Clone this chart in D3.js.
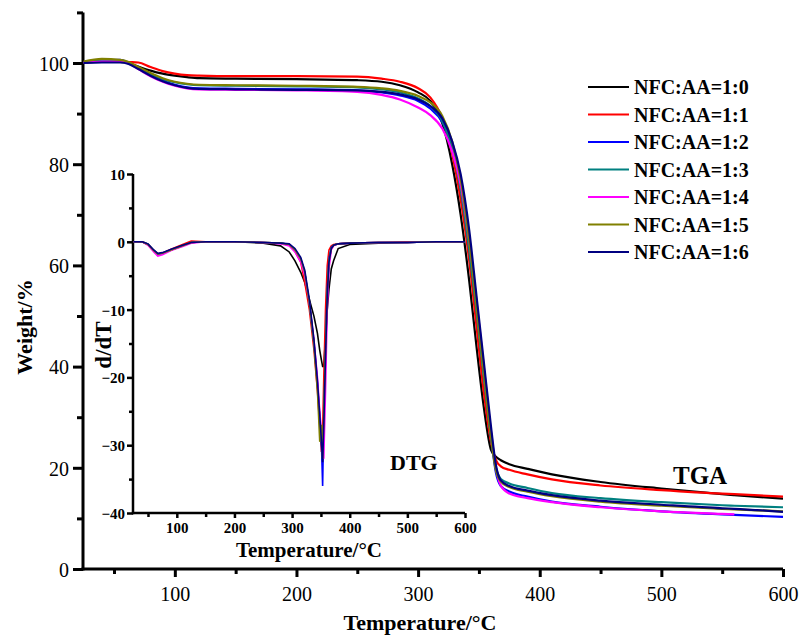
<!DOCTYPE html>
<html>
<head>
<meta charset="utf-8">
<script src="https://cdn.jsdelivr.net/npm/d3@7"></script>
<style>
    body { margin: 0; background: #fff; }
    #chart-area { width: 803px; height: 637px; }
    svg text { font-family: "Liberation Serif", "Times New Roman", serif !important; fill: #000; }
    .axis path, .axis line { stroke: #000; }
    .bold { font-weight: bold; }
</style>
</head>
<body>
<div id="chart-area"></div>
<script>

// series names and colours (legend order)
let seriesNames = ["NFC:AA=1:0", "NFC:AA=1:1", "NFC:AA=1:2", "NFC:AA=1:3", "NFC:AA=1:4", "NFC:AA=1:5", "NFC:AA=1:6"];
let seriesColors = ["#000000", "#ff0000", "#0000ff", "#008080", "#ff00ff", "#808000", "#000080"];

// TGA - weight (%) vs temperature (°C)
let tgaTemps = [25, 40, 55, 62, 70, 80, 90, 100, 110, 120, 150, 200, 250, 270, 285, 300, 310, 320, 328, 335, 342, 348, 354, 360, 364, 368, 375, 390, 410, 450, 500, 550, 560, 600];
let tga10 = [100, 100.3, 100.2, 100, 99.3, 98.5, 97.9, 97.5, 97.2, 97, 96.9, 96.8, 96.6, 96.3, 95.6, 94.2, 92.5, 88, 80, 70, 57, 44, 32, 23.5, 22.2, 21.5, 20.7, 19.8, 18.7, 17.2, 15.9, 14.8, 14.6, 13.9];
let tga11 = [100.2, 100.5, 100.3, 100.2, 100.1, 99.2, 98.4, 97.9, 97.6, 97.5, 97.4, 97.4, 97.3, 96.9, 96.3, 95, 93.2, 89, 82, 73, 61, 48, 35, 25, 21.5, 20.3, 19.6, 18.7, 17.7, 16.5, 15.6, 14.9, 14.8, 14.3];
let tga12 = [100.2, 100.5, 100.6, 100, 98.9, 97.6, 96.5, 95.7, 95.2, 95, 94.9, 94.8, 94.6, 94.2, 93.6, 92.5, 91, 88.3, 83.5, 76.5, 65, 52, 39, 26, 19, 16.4, 15.3, 14.3, 13.3, 12.3, 11.4, 10.8, 10.7, 10.3];
let tga13 = [100, 100.6, 100.5, 100, 99, 97.8, 96.8, 96.2, 95.8, 95.6, 95.5, 95.4, 95.2, 94.8, 94.2, 93, 91.5, 88.5, 83, 75, 63, 51, 38, 26, 20, 17.8, 16.9, 16, 15, 14, 13.2, 12.6, 12.5, 12.2];
let tga14 = [100, 100.3, 100.3, 99.9, 98.8, 97.4, 96.3, 95.5, 95, 94.8, 94.7, 94.6, 94.3, 93.7, 92.8, 91.2, 89.7, 87, 82.5, 76, 65, 53, 40, 27, 20, 16.5, 14.9, 14, 13.2, 12.2, 11.4, 10.9, 10.8, null];
let tga15 = [100.3, 100.8, 100.6, 100.2, 99.2, 98, 97, 96.3, 95.9, 95.7, 95.6, 95.5, 95.3, 95, 94.5, 93.5, 92.2, 89.5, 84.5, 77, 65, 52, 39, 26, 19.5, 17.3, 16.2, 15.3, 14.4, 13.3, 12.5, 11.9, 11.8, 11.4];
let tga16 = [100, 100.1, 100.1, 99.8, 98.8, 97.5, 96.4, 95.6, 95.1, 94.9, 94.8, 94.7, 94.6, 94.3, 93.8, 92.8, 91.5, 89, 84.5, 78, 67, 54, 41, 28, 20.5, 17.5, 16.4, 15.5, 14.6, 13.5, 12.7, 12, 11.9, 11.3];

// DTG - derivative vs temperature (°C)
let dtgTemps = [25, 40, 50, 60, 67, 75, 90, 110, 125, 150, 200, 250, 280, 295, 305, 315, 322, 330, 338, 344, 348, 351, 353, 355, 358, 361, 364, 368, 372, 380, 400, 450, 500, 550, 600];
let dtg10 = [0, 0, -0.4, -1.3, -1.8, -1.7, -1.2, -0.6, -0.1, 0, 0, -0.2, -0.6, -1.5, -2.8, -4.5, -6, -8.5, -11, -13.5, -16, -17.5, -18.4, -18.4, -14, -10, -7, -4, -2.8, -1, -0.4, -0.2, -0.1, 0, 0];
let dtg11 = [0, 0, -0.4, -1.3, -1.8, -1.7, -1.1, -0.4, 0.1, 0, 0, -0.1, -0.2, -0.5, -1.4, -3, -6, -10, -16, -22, -27, -31, -28, -20, -10, -3.5, -1.2, -0.6, -0.4, -0.3, -0.2, -0.1, 0, 0, 0];
let dtg12 = [0, 0, -0.4, -1.3, -1.8, -1.7, -1.2, -0.6, -0.1, 0, 0, -0.1, -0.2, -0.4, -1.2, -2.6, -4.6, -9, -15, -21, -26, -30, -36, -26, -16, -7, -2.5, -0.8, -0.5, -0.3, -0.2, -0.1, -0.1, 0, 0];
let dtg13 = [0, 0, -0.4, -1.3, -1.8, -1.7, -1.2, -0.6, -0.1, 0, 0, -0.1, -0.2, -0.4, -1.2, -2.5, -4.5, -9, -15, -21, -26, -29.5, -32, -27, -17, -8, -3, -1, -0.5, -0.3, -0.2, -0.1, -0.1, 0, 0];
let dtg14 = [0, 0, -0.5, -1.5, -2.1, -1.9, -1.3, -0.7, -0.2, 0, 0, -0.1, -0.3, -0.6, -1.5, -3, -5, -9, -14.5, -20, -25, -28, -31, -32, -22, -10, -4, -1.2, -0.6, -0.3, -0.2, -0.1, -0.1, 0, 0];
let dtg15 = [0, 0, -0.4, -1.3, -1.8, -1.7, -1.2, -0.6, -0.1, 0, 0, -0.1, -0.2, -0.4, -1.2, -2.5, -4.5, -9, -15, -22, -29.5, -27, -32, -25, -16, -7.5, -2.8, -1, -0.5, -0.3, -0.2, -0.1, -0.1, 0, 0];
let dtg16 = [0, 0, -0.3, -1.2, -1.7, -1.6, -1.1, -0.5, -0.1, 0, 0, -0.1, -0.2, -0.3, -1, -2.3, -4.2, -8.5, -14.5, -20.5, -25.5, -29.5, -32.5, -27, -17, -8, -3, -1, -0.5, -0.3, -0.2, -0.1, -0.1, 0, 0];

let tgaSeries = [tga10, tga11, tga12, tga13, tga14, tga15, tga16];
let dtgSeries = [dtg10, dtg11, dtg12, dtg13, dtg14, dtg15, dtg16];

// tick values
let mainXTicks = [100, 200, 300, 400, 500, 600];
let mainXMinor = [50, 150, 250, 350, 450, 550];
let mainYTicks = [0, 20, 40, 60, 80, 100];
let mainYMinor = [10, 30, 50, 70, 90, 110];
let insetYTicks = [-40, -30, -20, -10, 0, 10];
let insetYMinor = [-35, -25, -15, -5, 5];


class TgaChart {

    constructor(parentElement) {
        this.parentElement = parentElement;
        this.initVis();
    }

    initVis() {
        let vis = this;

        vis.svg = d3.select("#" + vis.parentElement).append("svg")
            .attr("width", 803)
            .attr("height", 637);

        // main plot area
        vis.main = {left: 83, right: 783, top: 12.4, bottom: 569};
        vis.x = d3.scaleLinear().domain([24.5, 600]).range([vis.main.left, vis.main.right]);
        vis.y = d3.scaleLinear().domain([0, 110]).range([vis.main.bottom, vis.main.top]);

        // inset plot area
        vis.inset = {left: 133, right: 465, top: 174, bottom: 513};
        vis.xi = d3.scaleLinear().domain([24, 600]).range([vis.inset.left, vis.inset.right]);
        vis.yi = d3.scaleLinear().domain([-40, 10]).range([vis.inset.bottom, vis.inset.top]);

        vis.wrangleData();
    }

    wrangleData() {
        let vis = this;

        vis.tgaData = seriesNames.map((name, i) => ({
            name: name,
            color: seriesColors[i],
            values: tgaTemps.map((t, j) => ({t: t, v: tgaSeries[i][j]}))
        }));

        vis.dtgData = seriesNames.map((name, i) => ({
            name: name,
            color: seriesColors[i],
            values: dtgTemps.map((t, j) => ({t: t, v: dtgSeries[i][j]}))
        }));

        vis.updateVis();
    }

    drawAxis(g, scale, major, minor, orient, majorLen, minorLen, width) {
        let axisMaker = orient === "bottom" ? d3.axisBottom : d3.axisLeft;
        let gMinor = g.append("g").attr("class", "axis")
            .call(axisMaker(scale).tickValues(minor).tickSize(minorLen).tickFormat(""));
        gMinor.select(".domain").remove();
        gMinor.selectAll("line").attr("stroke-width", width);

        let gMajor = g.append("g").attr("class", "axis")
            .call(axisMaker(scale).tickValues(major).tickSize(majorLen).tickSizeOuter(0));
        gMajor.attr("font-family", null);
        gMajor.select(".domain").attr("stroke-width", width);
        gMajor.selectAll("line").attr("stroke-width", width);
        return gMajor;
    }

    updateVis() {
        let vis = this;

        // ---- main axes
        let gx = vis.svg.append("g").attr("transform", "translate(0," + vis.main.bottom + ")");
        let ax = vis.drawAxis(gx, vis.x, mainXTicks, mainXMinor, "bottom", 8, 5, 3);
        ax.attr("font-size", 20);
        ax.selectAll("text").attr("y", 18).attr("dy", "0.71em");
        ax.select(".domain").attr("d", "M" + (vis.main.left - 1.5) + ",0H" + vis.main.right);

        let gy = vis.svg.append("g").attr("transform", "translate(" + vis.main.left + ",0)");
        let ay = vis.drawAxis(gy, vis.y, mainYTicks, mainYMinor, "left", 10, 6, 3);
        ay.attr("font-size", 20);
        ay.selectAll("text").attr("x", -14).attr("dy", "0.36em");
        ay.select(".domain").attr("d", "M0," + vis.main.top + "V" + (vis.main.bottom + 1.5));

        // ---- inset axes
        let gxi = vis.svg.append("g").attr("transform", "translate(0," + vis.inset.bottom + ")");
        let axi = vis.drawAxis(gxi, vis.xi, mainXTicks, mainXMinor, "bottom", 5, 4, 2.5);
        axi.attr("font-size", 15).attr("font-weight", "bold");
        axi.selectAll("text").attr("y", 9).attr("dy", "0.71em");
        axi.select(".domain").attr("d", "M" + (vis.inset.left - 1.2) + ",0H" + vis.inset.right);

        let gyi = vis.svg.append("g").attr("transform", "translate(" + vis.inset.left + ",0)");
        let ayi = vis.drawAxis(gyi, vis.yi, insetYTicks, insetYMinor, "left", 6, 4, 2.5);
        ayi.attr("font-size", 15).attr("font-weight", "bold");
        ayi.selectAll("text").attr("x", -8).attr("dy", "0.36em");
        ayi.select(".domain").attr("d", "M0," + vis.inset.top + "V" + (vis.inset.bottom + 1.2));

        // ---- TGA curves
        let tgaLine = d3.line()
            .defined(d => d.v !== null)
            .x(d => vis.x(d.t))
            .y(d => vis.y(d.v))
            .curve(d3.curveMonotoneX);

        vis.svg.append("g").selectAll("path")
            .data(vis.tgaData)
            .join("path")
            .attr("d", d => tgaLine(d.values))
            .attr("fill", "none")
            .attr("stroke", d => d.color)
            .attr("stroke-width", 2.2);

        // ---- DTG curves
        let dtgLine = d3.line()
            .x(d => vis.xi(d.t))
            .y(d => vis.yi(d.v))
            .curve(d3.curveLinear);

        vis.svg.append("g").selectAll("path")
            .data(vis.dtgData)
            .join("path")
            .attr("d", d => dtgLine(d.values))
            .attr("fill", "none")
            .attr("stroke", d => d.color)
            .attr("stroke-width", 1.6);

        // ---- axis titles and labels
        vis.svg.append("text").attr("class", "bold")
            .attr("x", 420).attr("y", 630)
            .attr("text-anchor", "middle").style("font-size", "22px")
            .text("Temperature/°C");

        vis.svg.append("text").attr("class", "bold")
            .attr("transform", "translate(32,327) rotate(-90)")
            .attr("text-anchor", "middle").style("font-size", "22px")
            .text("Weight/%");

        vis.svg.append("text").attr("class", "bold")
            .attr("x", 309).attr("y", 557)
            .attr("text-anchor", "middle").style("font-size", "21px")
            .text("Temperature/°C");

        vis.svg.append("text").attr("class", "bold")
            .attr("transform", "translate(111,345) rotate(-90)")
            .attr("text-anchor", "middle").style("font-size", "23px")
            .text("d/dT");

        vis.svg.append("text").attr("class", "bold")
            .attr("x", 390).attr("y", 470).style("font-size", "22px")
            .text("DTG");

        vis.svg.append("text").attr("class", "bold")
            .attr("x", 673).attr("y", 484).style("font-size", "25px")
            .text("TGA");

        // ---- legend
        let legend = vis.svg.append("g").selectAll("g")
            .data(vis.tgaData)
            .join("g")
            .attr("transform", (d, i) => "translate(588," + (87 + i * 27.5) + ")");

        legend.append("line")
            .attr("x1", 0).attr("x2", 41)
            .attr("stroke", d => d.color)
            .attr("stroke-width", 2.2);

        legend.append("text").attr("class", "bold")
            .attr("x", 46).attr("dy", "0.35em")
            .style("font-size", "20px")
            .text(d => d.name);
    }
}

let chart = new TgaChart("chart-area");

</script>
</body>
</html>
